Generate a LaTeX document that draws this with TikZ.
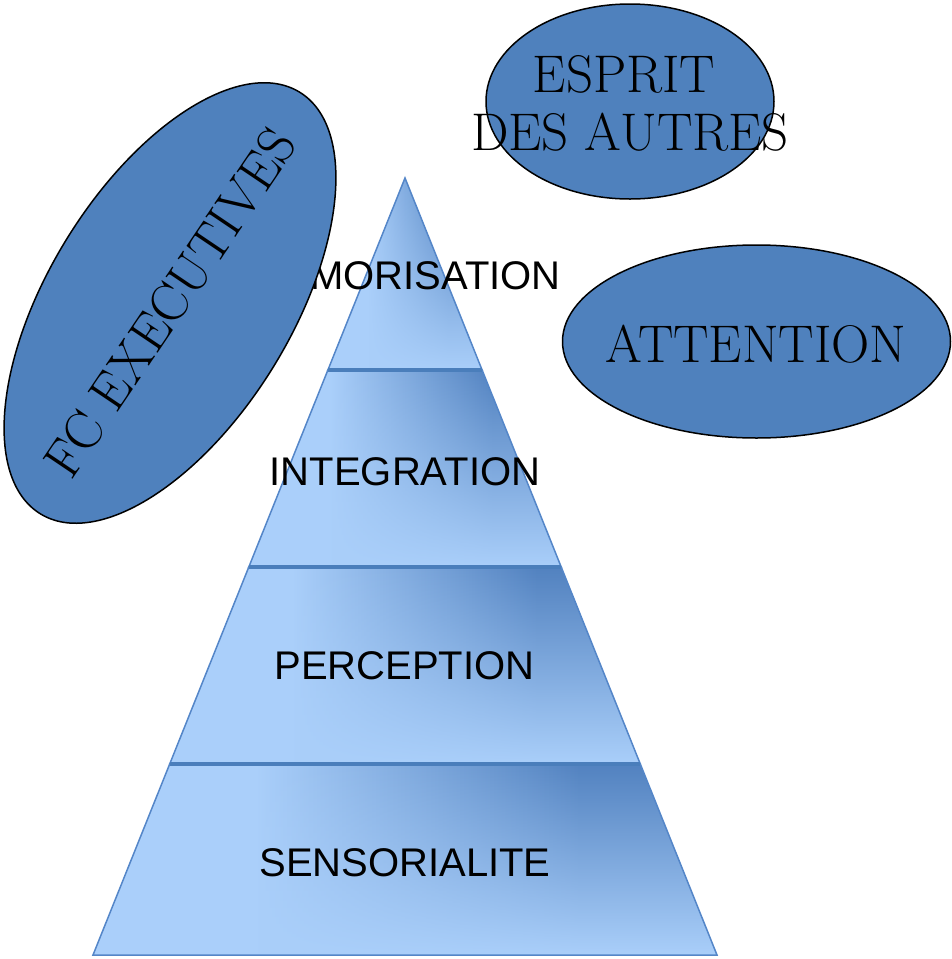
\documentclass[tikz,border=0pt]{standalone}
\usepackage{fontspec}
\newfontfamily\labelfont{Liberation Sans}
\usetikzlibrary{shapes.geometric,fadings}
\definecolor{plight}{RGB}{170,207,250}
\definecolor{pdark}{RGB}{82,130,192}
\definecolor{pedge}{RGB}{84,134,200}
\definecolor{pdiv}{RGB}{74,126,187}
\definecolor{efill}{RGB}{79,129,189}
\pgfdeclarehorizontalshading{hshade}{100bp}{color(0bp)=(plight); color(38bp)=(plight); color(64bp)=(pdark); color(100bp)=(pdark)}
\tikzfading[name=fadeup, top color=transparent!100, middle color=transparent!50, bottom color=transparent!0]
\begin{document}
\begin{tikzpicture}[x=1pt,y=-1pt,
  seg/.style={shade, shading=hshade,
    postaction={fill=plight, path fading=fadeup},
    postaction={draw=pedge, line width=1.5pt, line join=miter}},
  divider/.style={draw=pdiv, line width=4pt},
  lvl/.style={font=\labelfont\fontsize{40}{48}\selectfont, inner sep=0pt, anchor=base},
  bubble/.style={ellipse, draw=black, line width=1.5pt, fill=efill, inner sep=0pt},
  btext/.style={font=\fontsize{53}{58}\selectfont, inner sep=0pt, align=center}]
\useasboundingbox (0,0) rectangle (952,959);
% pyramid corners
\coordinate (apex) at (405,178);
\coordinate (l1) at (327.9,370);
\coordinate (r1) at (482.1,370);
\coordinate (l2) at (248.8,567);
\coordinate (r2) at (561.2,567);
\coordinate (l3) at (169.9,763.5);
\coordinate (r3) at (640.1,763.5);
\coordinate (bl) at (93,955);
\coordinate (br) at (717,955);
% segments
\path[seg] (apex) -- (r1) -- (l1) -- cycle;
\path[seg] (l1) -- (r1) -- (r2) -- (l2) -- cycle;
\path[seg] (l2) -- (r2) -- (r3) -- (l3) -- cycle;
\path[seg] (l3) -- (r3) -- (br) -- (bl) -- cycle;
\draw[divider] (l1) -- (r1);
\draw[divider] (l2) -- (r2);
\draw[divider] (l3) -- (r3);
% level labels
\node[lvl, anchor=base east] (mem) at (561,289.3) {MORISATION};
\node[lvl] (int) at (405,485) {INTEGRATION};
\node[lvl] (per) at (404.5,679.3) {PERCEPTION};
\node[lvl] (sen) at (405,876) {SENSORIALITE};
% bubbles
\node[bubble, minimum width=495pt, minimum height=243pt, rotate=58.4] (fce) at (170,303) {};
\node[btext, rotate=56] (fct) at (fce.center) {FC EXECUTIVES};
\node[bubble, minimum width=288pt, minimum height=195pt] (esp) at (630,101.5) {};
\node[btext] (espt) at (630,103.5) {ESPRIT\kern12pt\\DES AUTRES};
\node[bubble, minimum width=388pt, minimum height=193pt] (att) at (756.5,341.5) {};
\node[btext] (attt) at (756,344) {ATTENTION};
\end{tikzpicture}
\end{document}
